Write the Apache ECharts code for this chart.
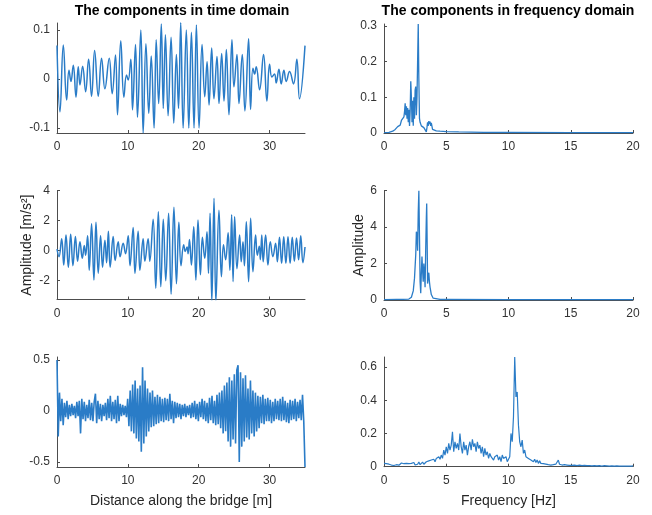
<!DOCTYPE html>
<html>
<head>
<meta charset="utf-8">
<script src="https://cdn.jsdelivr.net/npm/echarts@6/dist/echarts.min.js"></script>
<style>
html,body{margin:0;padding:0;background:#fff;}
#chart{width:652px;height:515px;}
</style>
</head>
<body>
<div id="chart"></div>
<script>
// ---- Time-domain component 1 (extrema) ----
const t1X = [0,0.42,0.89,1.36,1.69,1.97,2.3,2.68,3.0,3.24,3.62,4.04,4.46,4.88,5.31,5.82,6.29,6.76,7.37,7.79,8.26,8.54,9.0,9.44,9.81,10.05,10.42,10.66,11.08,11.36,11.83,12.16,12.55,12.95,13.3,13.7,14.0,14.35,14.72,15.0,15.3,15.68,16.1,16.48,16.85,17.15,17.46,17.8,18.25,18.6,18.97,19.34,19.67,20.05,20.47,20.85,21.18,21.46,21.83,22.15,22.58,22.86,23.24,23.57,23.9,24.27,24.69,24.97,25.4,25.68,26.15,26.52,27.04,27.32,27.65,27.89,28.12,28.59,29.15,29.62,30.0,30.33,30.7,30.94,31.32,31.64,32.02,32.35,32.82,33.38,33.85,34.22,35];
const t1Y = [0.068,-0.067,0.069,-0.043,0.018,-0.005,0.028,-0.037,0.025,-0.012,0.026,-0.026,0.04,-0.035,0.058,-0.035,0.042,-0.02,0.042,-0.03,0.049,-0.073,0.078,-0.037,0.008,-0.002,0.04,-0.063,0.07,-0.078,0.1,-0.11,0.072,-0.07,0.047,-0.1,0.08,-0.05,0.112,-0.06,0.09,-0.075,0.085,-0.09,0.05,-0.06,0.115,-0.1,0.1,-0.1,0.095,-0.1,0.11,-0.1,0.07,-0.036,0.035,-0.053,0.063,-0.04,0.046,-0.05,0.052,-0.045,0.06,-0.073,0.08,-0.016,0.05,-0.05,0.05,-0.065,0.082,-0.062,0.022,0.01,0.025,-0.022,0.05,-0.045,0.03,0.004,0.01,-0.008,0.02,-0.01,0.018,-0.005,0.015,-0.01,0.04,-0.04,0.068];

// ---- Time-domain component 2 ----
const t2X = [0,0.28,0.66,0.95,1.27,1.6,1.93,2.25,2.6,2.9,3.24,3.57,3.85,4.04,4.32,4.55,4.88,5.21,5.5,5.82,6.15,6.43,6.76,7.0,7.25,7.5,7.93,8.2,8.64,8.9,9.34,9.67,10.05,10.3,10.75,11.0,11.45,11.7,12.16,12.4,12.86,13.1,13.57,13.94,14.3,14.65,15.0,15.35,15.75,16.1,16.5,16.86,17.2,17.5,17.88,18.1,18.35,18.5,18.7,18.97,19.3,19.6,19.9,20.24,20.52,20.85,21.17,21.38,21.6,21.85,22.16,22.42,22.86,23.2,23.5,23.8,24.15,24.4,24.65,24.85,25.07,25.4,25.77,26.0,26.25,26.45,26.72,27.04,27.33,27.65,28.03,28.27,28.55,28.7,28.9,29.1,29.44,29.77,30.1,30.47,30.85,31.1,31.4,31.7,32.0,32.3,32.6,32.9,33.2,33.5,33.8,34.1,34.4,34.7,35];
const t2Y = [0.1,-0.4,0.8,-0.95,1.05,-1.1,1.1,-1.0,0.95,-0.7,0.6,-0.5,0.35,-0.3,1.0,-1.3,1.8,-1.95,1.9,-1.5,1.0,-1.1,0.7,-0.8,1.3,-1.1,0.95,-0.65,0.6,-0.4,0.5,-0.2,1.0,-1.0,1.55,-1.5,1.3,-1.3,0.8,-0.7,0.8,-0.7,2.1,-2.5,2.6,-2.4,2.1,-2.0,2.5,-2.9,2.9,-2.2,1.9,-1.0,0.4,-0.05,0.25,-0.2,0.75,-0.95,1.6,-1.95,2.05,-1.6,0.9,-0.5,1.27,-1.5,2.5,-3.4,3.5,-3.4,2.7,-1.73,0.4,-0.6,1.2,-1.3,2.4,-2.06,2.27,-1.2,1.05,-0.73,0.6,-1.0,1.93,-2.06,2.16,-1.4,1.05,-0.3,0.3,-0.6,1.05,-0.73,1.05,-0.95,0.6,-0.4,0.5,-0.73,0.9,-0.84,0.93,-0.84,0.93,-0.84,0.9,-0.7,0.85,-0.6,1.0,-0.8,0.25];

// ---- Time-domain component 3 (samples every 0.175 m) ----
const t3Step = 0.175;
const t3Y = [
 0.5,-0.25,0.18,-0.1,0.12,-0.14,0.08,-0.06,0.1,-0.08,
 0.06,-0.05,0.07,-0.04,0.05,-0.07,0.09,-0.05,0.1,-0.22,
 0.12,-0.08,0.09,-0.1,0.06,-0.07,0.11,-0.09,0.08,-0.1,
 0.09,0.17,-0.12,0.1,-0.08,0.07,-0.1,0.06,-0.05,0.08,
 -0.09,0.12,-0.07,0.15,-0.1,0.09,-0.08,0.11,-0.12,0.15,
 -0.1,0.07,-0.05,0.06,-0.04,0.05,-0.06,0.12,-0.15,0.2,
 -0.2,0.26,-0.22,0.3,-0.27,0.22,-0.3,0.25,-0.4,0.43,
 -0.32,0.3,-0.25,0.22,-0.2,0.18,-0.16,0.2,-0.15,0.14,
 -0.13,0.16,-0.12,0.14,-0.1,0.12,-0.11,0.13,-0.09,0.12,
 -0.1,0.17,-0.08,0.1,-0.12,0.09,-0.07,0.08,-0.06,0.07,
 -0.08,0.06,-0.05,0.07,-0.06,0.05,-0.04,0.06,-0.07,0.08,
 -0.06,0.1,-0.08,0.07,-0.1,0.09,-0.06,0.12,-0.08,0.1,
 -0.1,0.08,-0.12,0.13,-0.09,0.15,-0.12,0.1,-0.14,0.16,
 -0.13,0.18,-0.17,0.2,-0.22,0.25,-0.2,0.28,-0.3,0.33,
 -0.35,0.3,-0.28,0.36,-0.32,0.4,0.45,-0.5,0.38,-0.35,
 0.32,-0.3,0.35,-0.26,0.22,-0.28,0.3,-0.22,0.2,-0.25,
 0.18,-0.2,0.15,-0.17,0.14,-0.12,0.16,-0.13,0.12,-0.1,
 0.13,-0.1,0.11,-0.12,0.09,-0.1,0.12,-0.08,0.1,-0.09,
 0.12,-0.1,0.14,-0.09,0.1,-0.11,0.08,-0.12,0.11,-0.09,
 0.1,-0.08,0.12,-0.1,0.09,-0.07,0.11,-0.09,0.16,-0.1,
 -0.55];

// ---- Frequency-domain component 1 ----
const f1X = [0,0.4,0.7,0.9,1.0,1.1,1.2,1.3,1.4,1.45,1.5,1.55,1.6,1.65,1.7,1.75,1.8,1.85,1.9,1.95,2.0,2.05,2.1,2.15,2.2,2.25,2.3,2.35,2.4,2.45,2.5,2.55,2.6,2.65,2.7,2.75,2.8,2.85,2.9,2.95,3.0,3.1,3.2,3.3,3.4,3.45,3.5,3.55,3.6,3.65,3.7,3.75,3.8,3.9,4.0,4.2,4.5,5,6,8,10,15,20];
const f1Y = [0.001,0.002,0.005,0.01,0.012,0.018,0.015,0.022,0.035,0.03,0.04,0.038,0.045,0.06,0.083,0.05,0.075,0.04,0.07,0.03,0.065,0.02,0.06,0.145,0.1,0.03,0.09,0.02,0.1,0.04,0.12,0.13,0.05,0.1,0.2,0.305,0.15,0.04,0.03,0.025,0.02,0.025,0.015,0.01,0.003,0.015,0.03,0.02,0.033,0.025,0.032,0.02,0.028,0.01,0.008,0.006,0.005,0.004,0.003,0.002,0.002,0.001,0.001];

// ---- Frequency-domain component 2 ----
const f2X = [0,1,1.5,2.0,2.2,2.35,2.45,2.55,2.6,2.65,2.7,2.75,2.8,2.85,2.9,2.95,3.0,3.05,3.1,3.15,3.2,3.25,3.3,3.35,3.4,3.43,3.47,3.5,3.55,3.6,3.65,3.7,3.75,3.8,3.85,3.95,4.1,4.5,5,10,15,20];
const f2Y = [0.02,0.03,0.03,0.05,0.15,0.5,1.2,2.5,3.75,3.6,2.7,4.8,6.0,3.5,1.0,0.37,1.5,2.38,1.6,1.0,2.0,1.5,0.7,2.8,4.5,5.3,3.0,0.9,1.2,1.5,1.0,0.7,0.5,0.3,0.2,0.1,0.05,0.03,0.03,0.02,0.02,0.02];

// ---- Frequency-domain component 3 (samples every 0.1 Hz) ----
const f3Step = 0.1;
const f3Y = [
 0.02,0.01,0.018,0.008,0.015,0.02,0.01,0.016,0.007,0.015,
 0.012,0.02,0.009,0.016,0.022,0.01,0.018,0.008,0.02,0.012,
 0.018,0.009,0.02,0.012,0.025,0.01,0.02,0.015,0.028,0.012,
 0.02,0.028,0.015,0.025,0.03,0.02,0.035,0.025,0.04,0.03,
 0.045,0.03,0.05,0.04,0.06,0.045,0.07,0.05,0.1,0.07,
 0.12,0.08,0.14,0.1,0.13,0.21,0.09,0.15,0.11,0.14,
 0.1,0.2,0.12,0.08,0.15,0.1,0.13,0.07,0.12,0.15,
 0.1,0.165,0.12,0.14,0.09,0.15,0.11,0.13,0.08,0.12,
 0.06,0.11,0.07,0.09,0.05,0.08,0.06,0.07,0.04,0.06,
 0.05,0.07,0.04,0.06,0.03,0.07,0.05,0.04,0.06,0.03,
 0.02,0.06,0.2,0.15,0.3,0.66,0.42,0.45,0.25,0.15,
 0.12,0.16,0.08,0.1,0.06,0.07,0.05,0.06,0.04,0.05,
 0.03,0.045,0.025,0.04,0.02,0.035,0.02,0.03,0.018,0.025,
 0.015,0.022,0.012,0.02,0.01,0.018,0.012,0.02,0.015,0.025,
 0.04,0.015,0.02,0.01,0.018,0.012,0.016,0.01,0.015,0.008,
 0.014,0.008,0.015,0.01,0.012,0.007,0.013,0.009,0.011,0.006,
 0.012,0.008,0.01,0.006,0.011,0.007,0.01,0.005,0.009,0.007,
 0.01,0.005,0.009,0.006,0.008,0.004,0.009,0.006,0.008,0.005,
 0.008,0.004,0.007,0.005,0.008,0.004,0.007,0.005,0.006,0.004,
 0.007,0.004,0.006,0.003,0.006,0.004,0.005,0.003,0.006,0.004,
 0.005];

// ---- Tick labels ----
const timeTicks = [0,10,20,30];
const freqTicks = [0,5,10,15,20];
const yTicks = [[-0.1,0,0.1],[0,0.1,0.2,0.3],[-2,0,2,4],[0,2,4,6],[-0.5,0,0.5],[0,0.2,0.4,0.6]];
const yRanges = [[-0.11,0.114],[0,0.305],[-3.25,4],[0,6],[-0.55,0.53],[0,0.66]];

const titles = ['The components in time domain','The components in frequency domain'];
const xNames = ['Distance along the bridge [m]','Frequency [Hz]'];
const yNames = ['Amplitude [m/s²]','Amplitude'];

const LINE = '#2a7cc7';
const AXIS = '#4d4d4d';
const FONT = 'Liberation Sans';

const zip = (xs, ys) => xs.map((x, i) => [x, ys[i]]);
const stepped = (ys, step) => ys.map((y, i) => [+(i * step).toFixed(4), y]);

const grids = [
  {left:57, top:23, width:248, height:110},
  {left:384, top:24, width:249, height:109},
  {left:57, top:190.7, width:248, height:108.8},
  {left:384, top:190.7, width:249, height:109.3},
  {left:57, top:357, width:248, height:110},
  {left:384, top:357, width:249, height:109.7}
];

const seriesData = [
  {d: zip(t1X, t1Y), smooth: 0.45, w: 1.5},
  {d: zip(f1X, f1Y), smooth: false, w: 1.3},
  {d: zip(t2X, t2Y), smooth: 0.45, w: 1.5},
  {d: zip(f2X, f2Y), smooth: false, w: 1.3},
  {d: stepped(t3Y, t3Step), smooth: false, w: 1.6},
  {d: stepped(f3Y, f3Step), smooth: false, w: 1.2}
];

const xAxes = [], yAxes = [], series = [];
for (let i = 0; i < 6; i++) {
  const isFreq = i % 2 === 1;
  const ticks = isFreq ? freqTicks : timeTicks;
  const xa = {
    type:'value', gridIndex:i, min:0, max: isFreq ? 20 : 35,
    axisLine:{show:true, onZero:false, lineStyle:{color:AXIS, width:1}},
    axisTick:{show:true, inside:true, length:3, customValues:ticks, lineStyle:{color:AXIS}},
    axisLabel:{customValues:ticks, color:'#333', fontSize:12, fontFamily:FONT, margin:8},
    splitLine:{show:false}
  };
  if (i >= 4) {
    xa.name = xNames[i - 4];
    xa.nameLocation = 'middle';
    xa.nameGap = 27;
    xa.nameTextStyle = {color:'#262626', fontSize:14, fontFamily:FONT};
  }
  xAxes.push(xa);
  const ya = {
    type:'value', gridIndex:i, min:yRanges[i][0], max:yRanges[i][1],
    axisLine:{show:true, onZero:false, lineStyle:{color:AXIS, width:1}},
    axisTick:{show:true, inside:true, length:3, customValues:yTicks[i], lineStyle:{color:AXIS}},
    axisLabel:{customValues:yTicks[i], color:'#333', fontSize:12, fontFamily:FONT, margin:7},
    splitLine:{show:false}
  };
  if (i === 2 || i === 3) {
    ya.name = yNames[i - 2];
    ya.nameLocation = 'middle';
    ya.nameGap = i === 2 ? 23 : 17;
    ya.nameRotate = 90;
    ya.nameTextStyle = {color:'#262626', fontSize:14, fontFamily:FONT};
  }
  yAxes.push(ya);
  series.push({
    type:'line', xAxisIndex:i, yAxisIndex:i, data:seriesData[i].d,
    smooth:seriesData[i].smooth, showSymbol:false, symbol:'none',
    lineStyle:{color:LINE, width:seriesData[i].w}, animation:false, clip:true
  });
}

const chart = echarts.init(document.getElementById('chart'), null, {renderer:'canvas'});
chart.setOption({
  backgroundColor:'#fff',
  animation:false,
  title:[
    {text:titles[0], left:182, top:4, textAlign:'center', padding:0,
     textStyle:{fontSize:14, fontWeight:'bold', color:'#000', fontFamily:FONT}},
    {text:titles[1], left:508, top:4, textAlign:'center', padding:0,
     textStyle:{fontSize:14, fontWeight:'bold', color:'#000', fontFamily:FONT}}
  ],
  grid:grids,
  xAxis:xAxes,
  yAxis:yAxes,
  series:series
});
</script>
</body>
</html>
